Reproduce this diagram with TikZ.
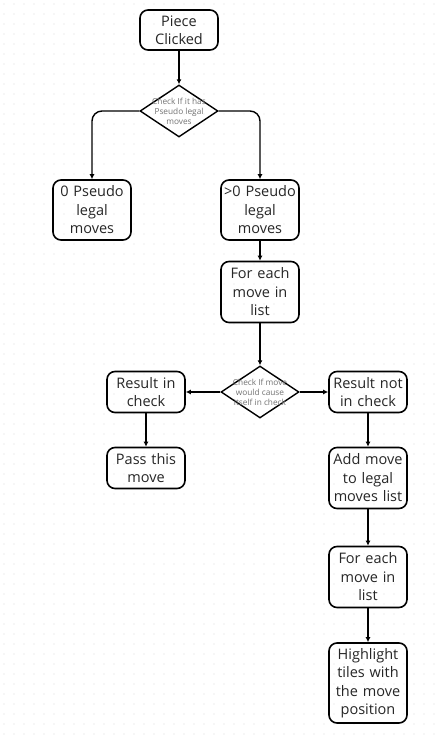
\documentclass[tikz,border=0pt]{standalone}
\usepackage{fontspec}
\setmainfont{Open Sans}
\usetikzlibrary{shapes.geometric,arrows.meta}
\begin{document}
\begin{tikzpicture}[x=1pt,y=-1pt,
		box/.style={draw, line width=1.6pt, rounded corners=8pt, minimum width=78pt, text width=76pt, inner sep=1pt, align=center, text=black!85, font=\fontsize{14.5}{18.5}\selectfont},
		check/.style={draw, diamond, line width=1.4pt, minimum width=78pt, minimum height=52pt, inner sep=0pt},
		checktext/.style={align=center, text=black!55, inner sep=0pt, font=\fontsize{8.3}{10}\selectfont},
		flow/.style={line width=1.4pt, -{Latex[length=5pt,width=5pt]}}]
		\useasboundingbox (0,0) rectangle (440,742);
		\fill[white] (0,0) rectangle (440,742);
		\foreach \i in {0,...,43}
			\foreach \j in {0,...,74}
				\fill[black!15] (4+10*\i,4+10*\j) circle (0.6pt);
		\node[box, minimum height=40pt] (clicked) at (179,30) {Piece\\Clicked};
		\node[check, label={[checktext]center:Check If it has\\Pseudo legal\\moves}] (check1) at (179,111) {};
		\node[box, minimum height=60pt] (zero) at (92,210) {0 Pseudo\\legal\\moves};
		\node[box, minimum height=60pt] (more) at (260,210) {>0 Pseudo\\legal\\moves};
		\node[box, minimum height=61pt] (each1) at (260,292) {For each\\move in\\list};
		\node[check, label={[checktext]center:Check If move\\would cause\\itself in check}] (check2) at (260,392) {};
		\node[box, minimum height=41pt] (incheck) at (146,392) {Result in\\check};
		\node[box, minimum height=41pt] (notcheck) at (368,392) {Result not\\in check};
		\node[box, minimum height=41pt] (pass) at (146,468) {Pass this\\move};
		\node[box, minimum height=61pt] (addmove) at (368,478) {Add move\\to legal\\moves list};
		\node[box, minimum height=61pt] (each2) at (368,577) {For each\\move in\\list};
		\node[box, minimum height=80pt] (highlight) at (368,683) {Highlight\\tiles with\\the move\\position};
		\draw[flow] (clicked) -- (check1);
		\draw[flow, rounded corners=10pt] (check1.west) -| (zero.north);
		\draw[flow, rounded corners=10pt] (check1.east) -| (more.north);
		\draw[flow] (more) -- (each1);
		\draw[flow] (each1) -- (check2);
		\draw[flow] (check2.west) -- (incheck.east);
		\draw[flow] (check2.east) -- (notcheck.west);
		\draw[flow] (incheck) -- (pass);
		\draw[flow] (notcheck) -- (addmove);
		\draw[flow] (addmove) -- (each2);
		\draw[flow] (each2) -- (highlight);
	\end{tikzpicture}
\end{document}
